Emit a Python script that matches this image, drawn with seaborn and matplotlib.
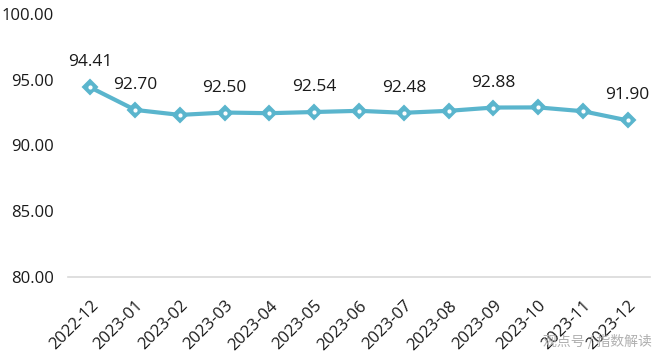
import matplotlib
matplotlib.use("Agg")
import matplotlib.pyplot as plt
import seaborn as sns
import pandas as pd

months = ["2022-12", "2023-01", "2023-02", "2023-03", "2023-04", "2023-05", "2023-06",
          "2023-07", "2023-08", "2023-09", "2023-10", "2023-11", "2023-12"]
values = [94.41, 92.70, 92.32, 92.50, 92.45, 92.54, 92.63, 92.48, 92.63, 92.88, 92.89, 92.60, 91.90]
labeled = ["2022-12", "2023-01", "2023-03", "2023-05", "2023-07", "2023-09", "2023-12"]
yticks = [80, 85, 90, 95, 100]

sns.set_theme(style="white")
plt.rcParams['font.family'] = ['Open Sans', 'Noto Sans CJK SC', 'DejaVu Sans']

df = pd.DataFrame({"month": months, "value": values})
df["x"] = range(len(months))

fig = plt.figure(figsize=(6.6, 3.56), dpi=100)
ax = fig.add_axes([0.103, 0.222, 0.882, 0.739])

color = "#5ab5cd"
sns.lineplot(data=df, x="x", y="value", ax=ax, color=color, linewidth=3,
             marker="D", markersize=7, markerfacecolor=color,
             markeredgecolor=color, markeredgewidth=1.5, zorder=3)
ax.scatter(df["x"], df["value"], s=4, color="white", zorder=4)

for m, v, xi in zip(months, values, df["x"]):
    if m in labeled:
        ax.annotate(f"{v:.2f}", (xi, v), xytext=(0, 18), textcoords="offset points",
                    ha="center", va="center", fontsize=12.5, color="#1a1a1a")

ax.set_xlim(-0.5, len(months) - 0.5)
ax.set_ylim(80, 100)
ax.set_yticks(yticks)
ax.set_yticklabels([f"{t:.2f}" for t in yticks], fontsize=12, color="#1a1a1a")
ax.set_xticks(list(df["x"]))
ax.set_xticklabels(months, rotation=45, ha="right", rotation_mode="anchor",
                   fontsize=12, color="#1a1a1a")
ax.tick_params(axis="y", length=0, pad=10)
ax.tick_params(axis="x", length=0, pad=15)
ax.set_xlabel("")
ax.set_ylabel("")
for s in ["top", "right", "left"]:
    ax.spines[s].set_visible(False)
ax.spines["bottom"].set_color("#d9d9d9")
ax.spines["bottom"].set_linewidth(1.2)

fig.text(0.905, 0.04, "观点号 / 指数解读", ha="center", va="center", fontsize=10,
         color="#b0b0b0", family=['Noto Sans CJK SC', 'DejaVu Sans'])

fig.savefig("out.png", dpi=100)
